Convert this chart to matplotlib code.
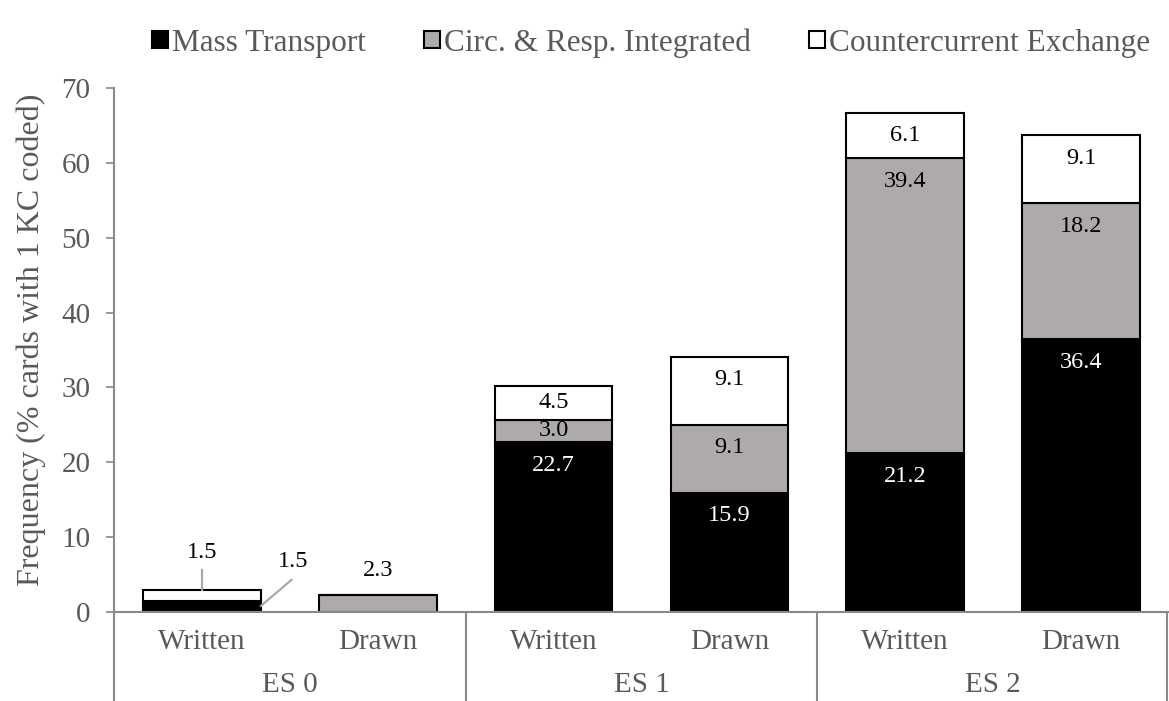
import matplotlib.pyplot as plt
import numpy as np
from matplotlib.patches import Patch
from matplotlib.transforms import blended_transform_factory

plt.rcParams["font.family"] = ["Liberation Serif", "DejaVu Serif"]

GROUPS = ["ES 0", "ES 1", "ES 2"]
MODES = ["Written", "Drawn"]
SERIES = ["Mass Transport", "Circ. & Resp. Integrated", "Countercurrent Exchange"]

mass_transport = [1.5, 0.0, 22.7, 15.9, 21.2, 36.4]
circ_resp = [0.0, 2.3, 3.0, 9.1, 39.4, 18.2]
countercurrent = [1.5, 0.0, 4.5, 9.1, 6.1, 9.1]

COLORS = ["#000000", "#AEAAAA", "#FFFFFF"]
TEXT_COLORS = ["white", "black", "black"]
AXIS_GREY = "#898989"
TICK_GREY = "#595959"

fig = plt.figure(figsize=(11.69, 7.01), dpi=100)
ax = fig.add_axes([0.0975, 0.127, 0.9025, 0.7475])

x = np.arange(len(mass_transport))
width = 0.67
bottom = np.zeros(len(x))
values = [mass_transport, circ_resp, countercurrent]
for vals, color, tcolor, name in zip(values, COLORS, TEXT_COLORS, SERIES):
    vals = np.array(vals)
    ax.bar(x, vals, width, bottom=bottom, color=color, edgecolor="black",
           linewidth=1.5, label=name, zorder=2)
    # labels placed inside the top of each segment (ES 0 handled separately)
    for i in range(2, len(x)):
        top = bottom[i] + vals[i]
        y = top - min(3.07, vals[i] / 2)
        ax.text(x[i], y, f"{vals[i]:.1f}", ha="center", va="center",
                fontsize=17.5, color=tcolor, zorder=3)
    bottom += vals

# ES 0 labels sit outside the small bars, with leader lines
lead = dict(color="#A6A6A6", linewidth=1.5)
ax.text(0, 8.0, f"{countercurrent[0]:.1f}", ha="center", va="center", fontsize=17.5)
ax.plot([0, 0], [5.6, mass_transport[0] + countercurrent[0]], **lead)
ax.text(0.52, 6.8, f"{mass_transport[0]:.1f}", ha="center", va="center", fontsize=17.5)
ax.plot([0.51, 0.335], [4.3, 0.8], **lead)
ax.text(1, 5.5, f"{circ_resp[1]:.1f}", ha="center", va="center", fontsize=17.5)

ax.set_xlim(-0.5, 5.5)
ax.set_ylim(0, 70)
ax.set_yticks(range(0, 71, 10))
ax.tick_params(axis="y", colors=AXIS_GREY, labelcolor=TICK_GREY, labelsize=21,
               length=6, width=1.2, direction="out", pad=11)
ax.set_ylabel("Frequency (% cards with 1 KC coded)", fontsize=23, color=TICK_GREY)
ax.yaxis.set_label_coords(-0.064, 0.52)

for s in ["top", "right"]:
    ax.spines[s].set_visible(False)
for s in ["left", "bottom"]:
    ax.spines[s].set_color(AXIS_GREY)
    ax.spines[s].set_linewidth(1.5)

# two-level category axis
ax.set_xticks([])
trans = blended_transform_factory(ax.transData, ax.transAxes)
for i, xi in enumerate(x):
    ax.text(xi, -0.057, MODES[i % 2], ha="center", va="center", fontsize=21,
            color=TICK_GREY, transform=trans)
for g, name in enumerate(GROUPS):
    ax.text(2 * g + 0.5, -0.14, name, ha="center", va="center", fontsize=21,
            color=TICK_GREY, transform=trans)
for xs in [-0.5, 1.5, 3.5, 5.49]:
    ax.plot([xs, xs], [0, -0.17], color=AXIS_GREY, linewidth=1.5,
            transform=trans, clip_on=False)

handles = [Patch(facecolor=c, edgecolor="black", linewidth=1.5) for c in COLORS]
fig.legend(handles, SERIES, loc="upper center", bbox_to_anchor=(0.557, 1.0),
           ncol=3, frameon=False, fontsize=22.5, handlelength=0.5, handleheight=0.5,
           handletextpad=0.15, columnspacing=1.85, labelcolor=TICK_GREY)

fig.savefig("out.png", dpi=100)
